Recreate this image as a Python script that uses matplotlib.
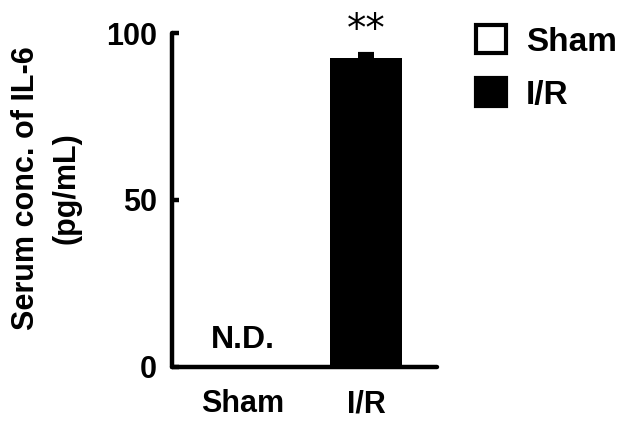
import matplotlib
matplotlib.use("Agg")
import matplotlib.pyplot as plt
from matplotlib.patches import Patch

# data
groups = ["Sham", "I/R"]
values = [0.0, 92.4]
errors = [0.0, 1.2]
bar_colors = ["white", "black"]
y_ticks = [0, 50, 100]
sig_marks = ["", "**"]
note = "N.D."

plt.rcParams["font.family"] = ["Liberation Sans", "DejaVu Sans"]
plt.rcParams["font.weight"] = "bold"

fig = plt.figure(figsize=(6.24, 4.21), dpi=100)
ax = fig.add_axes([0.2756, 0.1283, 0.4247, 0.7933])

x = list(range(len(groups)))
ax.bar(x, values, width=0.58, color=bar_colors, edgecolor="black", linewidth=0)

# upward error bar only
ax.errorbar(x[1], values[1], yerr=[[0], [errors[1]]], fmt="none", ecolor="black",
            elinewidth=3, capsize=6, capthick=3)

ax.text(x[1], values[1] + errors[1] + 1.5, sig_marks[1], ha="center", va="bottom",
        fontsize=28, fontweight="normal", family="DejaVu Sans")
ax.text(x[0], 8, note, ha="center", va="center", fontsize=23)

ax.set_xlim(-0.577, 1.577)
ax.set_ylim(0, 100)
ax.set_xticks(x)
ax.set_xticklabels(groups, fontsize=22)
ax.set_yticks(y_ticks)
ax.set_yticklabels([str(t) for t in y_ticks], fontsize=22)

for side in ["top", "right"]:
    ax.spines[side].set_visible(False)
for side in ["left", "bottom"]:
    ax.spines[side].set_linewidth(3.2)
    ax.spines[side].set_capstyle("round")

ax.tick_params(axis="y", direction="in", length=5, width=3.2, pad=11)
ax.tick_params(axis="x", length=0, pad=16)

ax.text(-0.475, 0.535, "Serum conc. of IL-6\n(pg/mL)", transform=ax.transAxes,
        rotation=90, ha="center", va="center", multialignment="center",
        fontsize=22, linespacing=1.45)

handles = [Patch(facecolor=c, edgecolor="black", linewidth=3) for c in bar_colors]
fig.legend(handles, groups, loc="upper left", bbox_to_anchor=(0.763, 0.94),
           frameon=False, fontsize=24, handlelength=0.9, handleheight=0.9,
           handletextpad=0.6, labelspacing=0.62, borderpad=0, borderaxespad=0)

fig.savefig("out.png", dpi=100)
